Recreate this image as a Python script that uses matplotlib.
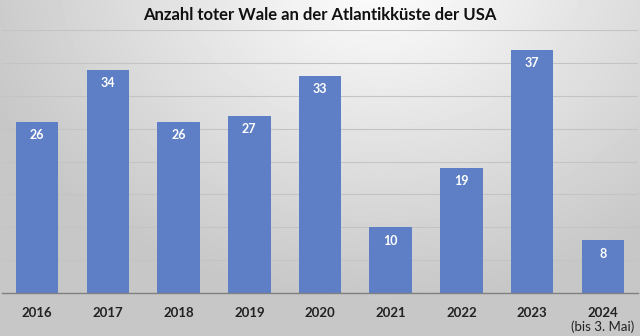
import numpy as np
import matplotlib.pyplot as plt

jahre = ["2016", "2017", "2018", "2019", "2020", "2021", "2022", "2023", "2024"]
anzahl = [26, 34, 26, 27, 33, 10, 19, 37, 8]
hinweis = "(bis 3. Mai)"

plt.rcParams["font.family"] = ["Lato", "DejaVu Sans"]

fig = plt.figure(figsize=(6.4, 3.36), dpi=100)

# grauer Verlauf als Hintergrund (hell oben in der Mitte, dunkler an den Rändern)
bg = fig.add_axes([0, 0, 1, 1], zorder=0)
yy, xx = np.mgrid[0:336, 0:640]
d = np.sqrt(((xx - 380) / 420.0) ** 2 + ((yy + 30) / 330.0) ** 2)
shade = np.clip(1.0 - 0.22 * d, 0.78, 1.0)
bg.imshow(shade, cmap="gray", vmin=0, vmax=1, aspect="auto", extent=[0, 1, 0, 1])
bg.axis("off")

ax = fig.add_axes([0.003, 0.128, 0.994, 0.782], zorder=1)
ax.patch.set_alpha(0)

x = np.arange(len(jahre))
bars = ax.bar(x, anzahl, width=0.6, color="#5E7FC6", zorder=2)
for b, v in zip(bars, anzahl):
    ax.text(b.get_x() + b.get_width() / 2, v - 1.1, str(v), ha="center", va="top",
            color="white", fontsize=9, fontweight="bold", zorder=3)

ax.set_xlim(-0.5, len(jahre) - 0.5)
ax.set_ylim(0, 40)
ax.set_yticks(np.arange(5, 41, 5))
ax.yaxis.grid(True, color="#C4C4C4", linewidth=0.8)
ax.set_axisbelow(True)
ax.tick_params(axis="y", left=False, labelleft=False)
ax.set_xticks([])

# Jahresbeschriftung unter der Achse
for xi, j in zip(x, jahre):
    ax.text(xi, -3.0, j, ha="center", va="center", fontsize=9.5, fontweight="bold",
            color="#222222", clip_on=False)
ax.text(x[-1], -5.1, hinweis, ha="center", va="center", fontsize=9.5, color="#222222",
        clip_on=False)

for s in ["top", "right", "left"]:
    ax.spines[s].set_visible(False)
ax.spines["bottom"].set_color("#808080")
ax.spines["bottom"].set_linewidth(1.0)

fig.text(0.5, 0.955, "Anzahl toter Wale an der Atlantikküste der USA", ha="center", va="center",
         fontsize=12, fontweight="bold", color="#111111")

fig.savefig("out.png", dpi=100)
